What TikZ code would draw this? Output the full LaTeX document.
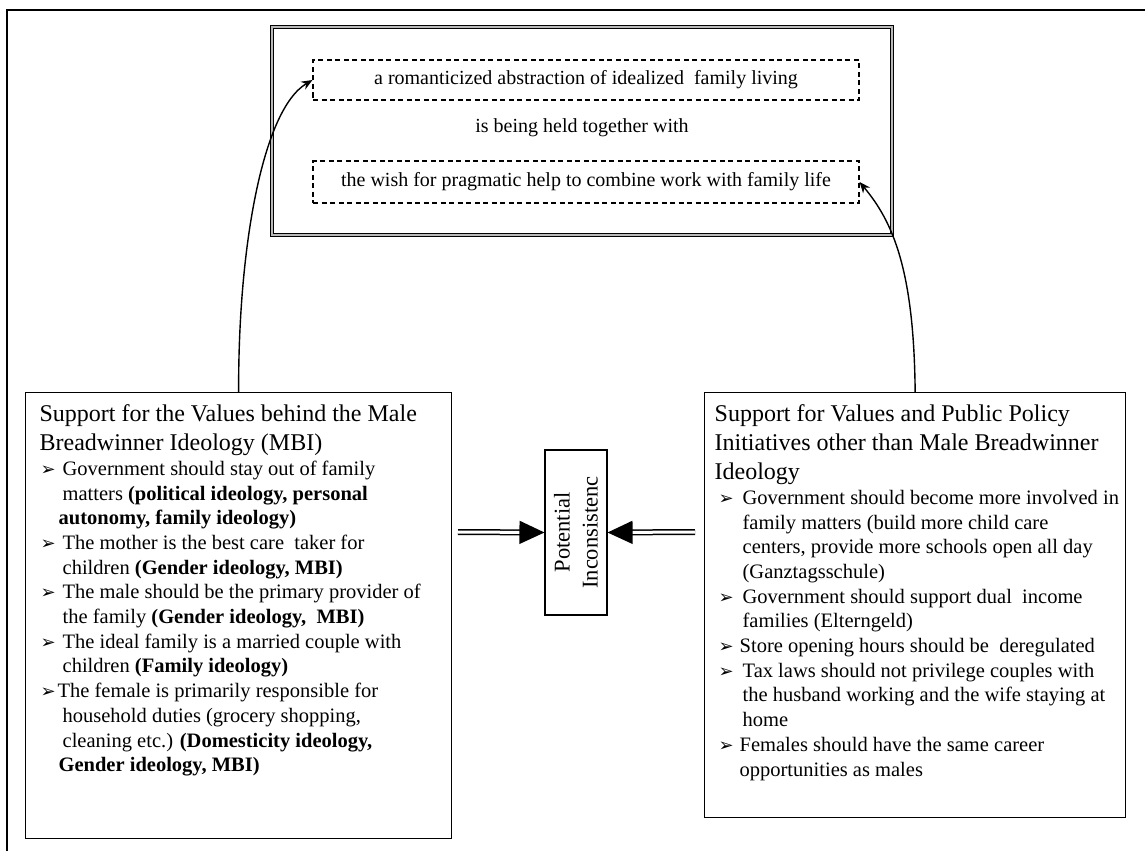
\documentclass[tikz,border=0pt]{standalone}
\usepackage{fontspec}
\setmainfont{Liberation Serif}
\newfontfamily\symfont{DejaVu Sans}
\usetikzlibrary{arrows.meta}
\newcommand\bodyfont{\fontsize{20.5}{24.7}\selectfont}
\newcommand\hdrfont{\fontsize{24}{29}\selectfont}
\newcommand\blt{{\symfont\fontsize{18}{18}\selectfont ➢}}
\newcommand\hln[1]{\noindent\hbox{#1}\par}
\newcommand\bline[3]{\noindent\hbox{\hspace*{#1}\makebox[#2][l]{\blt}#3}\par}
\newcommand\cont[2]{\noindent\hbox{\hspace*{#1}#2}\par}
\tikzset{
  panel/.style={draw, line width=1.3pt, inner ysep=0pt, anchor=north west},
  dashbox/.style={draw, dash pattern=on 5pt off 3.5pt, line width=1.1pt, minimum width=546pt, inner sep=0pt, font=\fontsize{20}{24}\selectfont},
  plaintext/.style={inner sep=0pt, font=\fontsize{20}{24}\selectfont},
  dblframe/.style={draw, line width=1.3pt, double=gray!55, double distance=1.6pt, minimum width=620pt, minimum height=208pt},
  conn/.style={line width=1.4pt, -{Stealth[length=11pt,width=9pt]}},
  bigarrow/.style={line width=1.5pt, double=white, double distance=3pt, -{Triangle[length=25pt,width=23pt]}},
  midbox/.style={draw, line width=1.1pt, rotate=90, minimum width=165pt, minimum height=62pt, inner sep=0pt, align=center, font=\fontsize{22.5}{28}\selectfont},
}
\begin{document}
\begin{tikzpicture}[x=1pt,y=-1pt]
\useasboundingbox (0,0) rectangle (1145,851);
% outer frame (cropped)
\draw[line width=2pt] (1145,10) -- (7,10) -- (7,851);
% top box
\node[dblframe] (tb) at (582,131) {};
\node[dashbox, minimum height=40pt] (d1) at (586,80) {a romanticized abstraction of idealized \ family living};
\node[plaintext] (mid) at (582,128) {is being held together with};
\node[dashbox, minimum height=42pt] (d2) at (586,182) {the wish for pragmatic help to combine work with family life};
% left box
\node[panel, inner xsep=14pt] (lb) at (25,392) {\parbox[t][446pt][t]{398pt}{\hdrfont
\hln{\rule{0pt}{29pt}Support for the Values behind the Male}
\hln{Breadwinner Ideology (MBI)}
\bodyfont
\bline{1pt}{22pt}{Government should stay out of family}
\cont{23pt}{matters \textbf{(political ideology, personal}}
\cont{19pt}{\textbf{autonomy, family ideology)}}
\bline{1pt}{22pt}{The mother is the best care \ taker for}
\cont{23pt}{children \textbf{(Gender ideology, MBI)}}
\bline{1pt}{22pt}{The male should be the primary provider of}
\cont{23pt}{the family \textbf{(Gender ideology, \ MBI)}}
\bline{1pt}{22pt}{The ideal family is a married couple with}
\cont{23pt}{children \textbf{(Family ideology)}}
\bline{1pt}{17pt}{The female is primarily responsible for}
\cont{23pt}{household duties (grocery shopping,}
\cont{23pt}{cleaning etc.) \textbf{(Domesticity ideology,}}
\cont{19pt}{\textbf{Gender ideology, MBI)}}
}};
% right box
\node[panel, inner xsep=10pt] (rb) at (704,392) {\parbox[t][425pt][t]{401pt}{\hdrfont
\hln{\rule{0pt}{29pt}Support for Values and Public Policy}
\hln{Initiatives other than Male Breadwinner}
\hln{Ideology}
\bodyfont
\bline{4pt}{24pt}{Government should become more involved in}
\cont{28pt}{family matters (build more child care}
\cont{28pt}{centers, provide more schools open all day}
\cont{28pt}{(Ganztagsschule)}
\bline{4pt}{24pt}{Government should support dual \ income}
\cont{28pt}{families (Elterngeld)}
\bline{4pt}{21pt}{Store opening hours should be \ deregulated}
\bline{4pt}{24pt}{Tax laws should not privilege couples with}
\cont{28pt}{the husband working and the wife staying at}
\cont{28pt}{home}
\bline{4pt}{21pt}{Females should have the same career}
\cont{25pt}{opportunities as males}
}};
% middle box
\node[midbox] (cb) at (576,532.5) {Potential\\Inconsistenc};
\coordinate (la) at (458,532);
\coordinate (ra) at (695,532);
\draw[bigarrow] (la) -- (cb.north);
\draw[bigarrow] (ra) -- (cb.south);
% curved connectors
\draw[conn] (lb.north) .. controls (238,250) and (262,110) .. (d1.west);
\draw[conn] (rb.north) .. controls (914,270) and (893,222) .. (d2.east);
\end{tikzpicture}
\end{document}
